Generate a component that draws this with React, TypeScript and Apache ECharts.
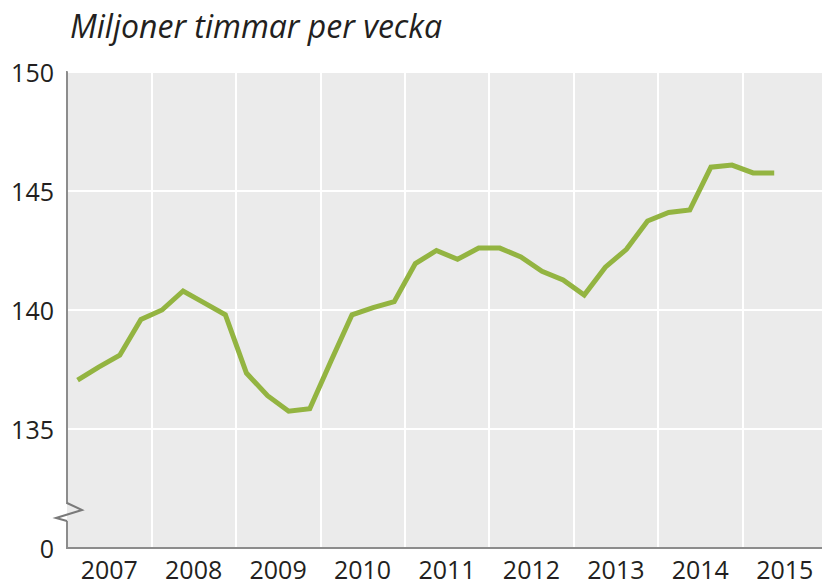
import React, { useEffect, useRef } from "react";
import * as echarts from "echarts";

const years = ["2007", "2008", "2009", "2010", "2011", "2012", "2013", "2014", "2015"];
const quarters = years.flatMap((y) => [y + "K1", y + "K2", y + "K3", y + "K4"]);
const hours = [
  137.05, 137.6, 138.1, 139.6,
  140.0, 140.8, 140.3, 139.8,
  137.35, 136.4, 135.75, 135.85,
  137.85, 139.8, 140.1, 140.35,
  141.95, 142.5, 142.13, 142.6,
  142.6, 142.23, 141.63, 141.26,
  140.63, 141.8, 142.55, 143.74,
  144.1, 144.2, 146.0, 146.09,
  145.76, 145.76,
];
const yTicks = [130, 135, 140, 145, 150];

export default function App() {
  const ref = useRef<HTMLDivElement>(null);
  useEffect(() => {
    if (!ref.current) return;
    const chart = echarts.init(ref.current, null, { renderer: "svg" });
    const font = "'Open Sans', 'Noto Sans', sans-serif";
    chart.setOption({
      animation: false,
      backgroundColor: "#ffffff",
      title: {
        text: "Miljoner timmar per vecka",
        left: 65,
        top: 4,
        textStyle: {
          fontFamily: font,
          fontStyle: "italic",
          fontWeight: "normal",
          fontSize: 32,
          color: "#231f20",
        },
      },
      grid: {
        left: 67,
        right: 3,
        top: 72,
        bottom: 39,
        show: true,
        backgroundColor: "#ebebeb",
        borderColor: "#8c8c8c",
        borderWidth: 2,
      },
      xAxis: [
        {
          type: "category",
          data: years,
          boundaryGap: true,
          position: "bottom",
          axisLine: { show: true, lineStyle: { color: "#8c8c8c", width: 2 } },
          axisTick: { show: false },
          axisLabel: {
            fontFamily: font,
            fontSize: 25,
            color: "#231f20",
            margin: 8,
          },
          splitLine: { show: true, interval: 0, lineStyle: { color: "#ffffff", width: 2 } },
        },
        {
          type: "category",
          data: quarters,
          boundaryGap: true,
          position: "bottom",
          show: false,
        },
      ],
      yAxis: {
        type: "value",
        min: yTicks[0],
        max: yTicks[yTicks.length - 1],
        interval: 5,
        axisLine: { show: true, lineStyle: { color: "#8c8c8c", width: 2 } },
        axisTick: { show: false },
        axisLabel: {
          fontFamily: font,
          fontSize: 25,
          color: "#231f20",
          margin: 13,
          formatter: (v: number) => (v === yTicks[0] ? "0" : String(v)),
        },
        splitLine: { show: true, lineStyle: { color: "#ffffff", width: 2 } },
      },
      graphic: [
        {
          type: "rect",
          z: 99,
          shape: { x: 64, y: 504, width: 3, height: 17 },
          style: { fill: "#ffffff" },
        },
        {
          type: "rect",
          z: 99,
          shape: { x: 67, y: 504, width: 3, height: 17 },
          style: { fill: "#ebebeb" },
        },
        {
          type: "polyline",
          z: 100,
          shape: { points: [[67, 503], [82, 510], [56, 518], [67, 521]] },
          style: { stroke: "#7a7a7a", lineWidth: 2, fill: null },
        },
      ],
      series: [
        {
          type: "line",
          xAxisIndex: 1,
          data: hours,
          symbol: "none",
          lineStyle: { color: "#93b441", width: 5, join: "miter" },
        },
      ],
    });
    return () => chart.dispose();
  }, []);
  return (
    <div
      style={{ position: "fixed", left: 0, top: 0, width: 822, height: 587, overflow: "hidden" }}
    >
      <div ref={ref} style={{ width: 830, height: 587 }} />
    </div>
  );
}
